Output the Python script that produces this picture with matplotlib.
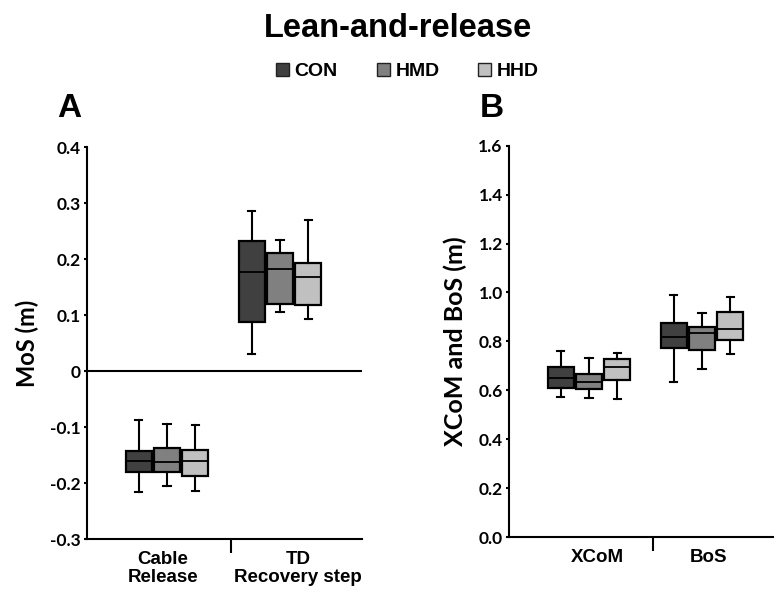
import numpy as np
import matplotlib.pyplot as plt
from matplotlib.patches import Patch

groups = ['CON', 'HMD', 'HHD']
colors = ['#404040', '#808080', '#c0c0c0']

# panel A: MoS, categories Cable Release / TD Recovery step
mos_cats = ['Cable\nRelease', 'TD\nRecovery step']
mos_med = [[-0.160, 0.177], [-0.163, 0.182], [-0.161, 0.168]]
mos_q1 = [[-0.180, 0.088], [-0.181, 0.120], [-0.188, 0.118]]
mos_q3 = [[-0.143, 0.232], [-0.137, 0.211], [-0.141, 0.193]]
mos_lo = [[-0.216, 0.030], [-0.205, 0.106], [-0.214, 0.093]]
mos_hi = [[-0.088, 0.286], [-0.094, 0.234], [-0.096, 0.270]]

# panel B: XCoM and BoS
xb_cats = ['XCoM', 'BoS']
xb_med = [[0.650, 0.818], [0.634, 0.834], [0.696, 0.851]]
xb_q1 = [[0.609, 0.772], [0.604, 0.765], [0.642, 0.806]]
xb_q3 = [[0.695, 0.874], [0.666, 0.858], [0.729, 0.920]]
xb_lo = [[0.571, 0.634], [0.567, 0.688], [0.563, 0.747]]
xb_hi = [[0.761, 0.990], [0.731, 0.917], [0.753, 0.983]]

tickfont = 'Lato'
boldfont = 'Liberation Sans'

fig = plt.figure(figsize=(7.74, 5.92), dpi=100)
axA = fig.add_axes([87/774, 1-539/592, 275/774, (539-147)/592])
axB = fig.add_axes([509/774, 1-537/592, 275/774, (537-145.7)/592])

offsets = [-0.25, 0, 0.25]


def draw(ax, med, q1, q3, lo, hi):
    for g in range(3):
        stats = []
        for c in range(2):
            stats.append(dict(med=med[g][c], q1=q1[g][c], q3=q3[g][c],
                              whislo=lo[g][c], whishi=hi[g][c], fliers=[]))
        pos = [c + offsets[g] for c in range(2)]
        ax.bxp(stats, positions=pos, widths=0.23, patch_artist=True,
               showfliers=False, manage_ticks=False, capwidths=0.065,
               boxprops=dict(facecolor=colors[g], edgecolor='black', linewidth=1.6),
               medianprops=dict(color='black', linewidth=1.3),
               whiskerprops=dict(color='black', linewidth=1.5),
               capprops=dict(color='black', linewidth=1.5), zorder=3)


def style(ax, cats, labpos, divider):
    for s in ['top', 'right']:
        ax.spines[s].set_visible(False)
    for s in ['left', 'bottom']:
        ax.spines[s].set_linewidth(1.5)
    ax.set_xlim(-0.708, 1.726)
    ax.set_xticks(labpos)
    ax.set_xticklabels(cats, fontfamily=boldfont, fontweight='bold', fontsize=13.5,
                       linespacing=1.05)
    ax.tick_params(axis='x', length=0, pad=9)
    ax.set_xticks([divider], minor=True)
    ax.tick_params(axis='x', which='minor', length=10, width=1.5, direction='out')
    ax.tick_params(axis='y', length=2.5, width=1.5, pad=2)
    for t in ax.get_yticklabels():
        t.set_fontfamily(tickfont)
        t.set_fontweight('bold')
        t.set_fontsize(12.5)


draw(axA, mos_med, mos_q1, mos_q3, mos_lo, mos_hi)
axA.axhline(0, color='black', linewidth=1.5, zorder=2)
axA.set_ylim(-0.3, 0.4)
axA.set_yticks([-0.3, -0.2, -0.1, 0, 0.1, 0.2, 0.3, 0.4])
axA.set_yticklabels(['-0.3', '-0.2', '-0.1', '0', '0.1', '0.2', '0.3', '0.4'])
style(axA, mos_cats, [-0.035, 1.16], 0.566)
axA.set_ylabel('MoS (m)', fontfamily=tickfont, fontweight='bold', fontsize=17)
axA.yaxis.set_label_coords(-0.175, 0.5)

draw(axB, xb_med, xb_q1, xb_q3, xb_lo, xb_hi)
axB.set_ylim(0, 1.6)
axB.set_yticks(np.arange(0, 1.61, 0.2))
axB.set_yticklabels(['%.1f' % v for v in np.arange(0, 1.61, 0.2)])
style(axB, xb_cats, [0.07, 1.055], 0.564)
axB.set_ylabel('XCoM and BoS (m)', fontfamily=tickfont, fontweight='bold', fontsize=18)
axB.yaxis.set_label_coords(-0.153, 0.5)

fig.text(0.5136, 1-37/592, 'Lean-and-release', ha='center', va='baseline',
         fontfamily=boldfont, fontweight='bold', fontsize=23.5)
fig.text(57/774, 1-117/592, 'A', ha='left', va='baseline',
         fontfamily=boldfont, fontweight='bold', fontsize=24)
fig.text(480/774, 1-117/592, 'B', ha='left', va='baseline',
         fontfamily=boldfont, fontweight='bold', fontsize=24)

handles = [Patch(facecolor=c, edgecolor='#222222', linewidth=1) for c in colors]
fig.legend(handles, groups, loc='center', bbox_to_anchor=(0.5265, 1-71.5/592), ncol=3,
           frameon=False, handlelength=0.67, handleheight=0.67, handletextpad=0.28,
           columnspacing=2.0, borderpad=0.2,
           prop=dict(family=boldfont, weight='bold', size=14))

fig.savefig('out.png', dpi=100)
